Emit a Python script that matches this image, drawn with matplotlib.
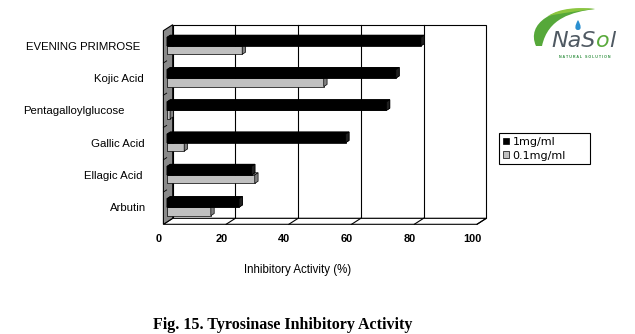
import matplotlib
matplotlib.use("Agg")
import matplotlib.pyplot as plt
from matplotlib.patches import Polygon, PathPatch, Patch
from matplotlib.path import Path
from matplotlib.transforms import IdentityTransform, blended_transform_factory

# ---------------- data ----------------
categories = ["EVENING PRIMROSE", "Kojic Acid", "Pentagalloylglucose",
              "Gallic Acid", "Ellagic Acid", "Arbutin"]
series_names = ["1mg/ml", "0.1mg/ml"]
values_1mg = [81, 73, 70, 57, 27, 23]
values_01mg = [24, 50, 1, 5.5, 28, 14]
xticks = [0, 20, 40, 60, 80, 100]
xlabel = "Inhibitory Activity (%)"
caption = "Fig. 15. Tyrosinase Inhibitory Activity"

# ---------------- layout ----------------
W, H = 635, 334
plt.rcParams['font.family'] = ['Liberation Sans', 'DejaVu Sans']
fig = plt.figure(figsize=(W / 100, H / 100), dpi=100)
fig.patch.set_facecolor('white')

# axes = front plane of the 3-D box
ax = fig.add_axes([163.4 / W, (H - 224.3) / H, 313.6 / W, 193.6 / H])
ax.set_xlim(0, 100)
ax.set_ylim(0, len(categories))
ax.axis('off')

DX = 9.3 / 3.136   # depth offset in value units
DY = 6.0 / 32.27   # depth offset in category units
XMAX = xticks[-1]
NC = len(categories)


def pt(v, y, d):
    return (v + d * DX, y + d * DY)


LW = 0.8
# back wall
ax.add_patch(Polygon([pt(0, 0, 1), pt(XMAX, 0, 1), pt(XMAX, NC, 1), pt(0, NC, 1)],
                     closed=True, facecolor='white', edgecolor='black', lw=LW,
                     clip_on=False, zorder=1))
for v in xticks[1:-1]:
    ax.plot(*zip(pt(v, 0, 1), pt(v, NC, 1)), color='black', lw=LW,
            clip_on=False, zorder=1.5)
# floor
ax.add_patch(Polygon([pt(0, 0, 0), pt(XMAX, 0, 0), pt(XMAX, 0, 1), pt(0, 0, 1)],
                     closed=True, facecolor='white', edgecolor='black', lw=LW,
                     clip_on=False, zorder=2))
for v in xticks[1:]:
    ax.plot(*zip(pt(v, 0, 0), pt(v, 0, 1)), color='black', lw=LW,
            clip_on=False, zorder=2.5)
# side wall
ax.add_patch(Polygon([pt(0, 0, 0), pt(0, 0, 1), pt(0, NC, 1), pt(0, NC, 0)],
                     closed=True, facecolor='#8a8a8a', edgecolor='black', lw=LW,
                     clip_on=False, zorder=3))
for k in range(1, NC):
    ax.plot(*zip(pt(0, k, 0), pt(0, k, 0.35)), color='black', lw=0.6,
            clip_on=False, zorder=3.5)

# bars
d0, d1 = 0.38, 0.74
h = 8.5 / 32.27
shift = 0.04
ypos = [NC - 1 - i + 0.5 for i in range(NC)]


def bar3d(v, yb, face, side, top, edge, z, solid=False):
    yt = yb + h
    if solid:
        ax.add_patch(Polygon([pt(0, yb, d0), pt(v, yb, d0), pt(v, yb, d1),
                              pt(v, yt, d1), pt(0, yt, d1), pt(0, yt, d0)],
                             closed=True, facecolor=face, edgecolor=edge, lw=0.5,
                             clip_on=False, zorder=z - 0.2))
    ax.barh(yb + d0 * DY + h / 2, v, height=h, left=d0 * DX, color=face,
            edgecolor=edge, lw=0.5, clip_on=False, zorder=z)
    ax.add_patch(Polygon([pt(0, yt, d0), pt(v, yt, d0), pt(v, yt, d1), pt(0, yt, d1)],
                         closed=True, facecolor=top, edgecolor=edge, lw=0.5,
                         clip_on=False, zorder=z - 0.1))
    ax.add_patch(Polygon([pt(v, yb, d0), pt(v, yt, d0), pt(v, yt, d1), pt(v, yb, d1)],
                         closed=True, facecolor=side, edgecolor='black', lw=0.5,
                         clip_on=False, zorder=z + 0.1))


for i in range(NC):
    yc = ypos[i] - shift
    bar3d(values_01mg[i], yc - h, '#c0c0c0', '#808080', '#a0a0a0', 'black', 5)
    bar3d(values_1mg[i], yc, 'black', '#202020', 'black', 'black', 6, solid=True)

# x tick labels
for v in xticks:
    ax.text(v - 1.43, -0.465, str(v), ha='center', va='center', fontsize=7.9,
            fontweight='bold', clip_on=False)

# category labels (right edges in figure pixels)
label_right_px = [140, 144, 125, 145, 142.7, 146]
tr = blended_transform_factory(fig.transFigure, ax.transData)
for i, c in enumerate(categories):
    fig.text(label_right_px[i] / W, ypos[i], c, transform=tr, ha='right',
             va='center', fontsize=8.2)

fig.text(298 / W, 1 - 270 / H, xlabel, ha='center', va='center', fontsize=8.3)
fig.text(282.5 / W, 1 - 325 / H, caption, ha='center', va='center',
         fontsize=11.5, fontweight='bold', family=['Liberation Serif', 'DejaVu Serif'])

# legend
handles = [Patch(facecolor='black', edgecolor='black', lw=0.5),
           Patch(facecolor='#c0c0c0', edgecolor='black', lw=0.5)]
leg = fig.legend(handles, series_names, loc='upper left',
                 bbox_to_anchor=(499.3 / W, (H - 170.7) / H, 90.7 / W, 37.4 / H),
                 mode='expand', fancybox=False, edgecolor='black', framealpha=1,
                 borderpad=0.3, handlelength=0.55, handleheight=0.5,
                 handletextpad=0.35, labelspacing=0.35,
                 prop={'family': 'DejaVu Sans', 'size': 8},
                 borderaxespad=0)
leg.get_frame().set_linewidth(0.8)

# logo (decoration, drawn in pixel coordinates)
def P(x, y):
    return (x, H - y)

leaf = Path([P(536, 46), P(526, 24), P(552, 5), P(595, 9),
             P(572, 12), P(548, 18), P(542, 46), P(536, 46)],
            [Path.MOVETO, Path.CURVE4, Path.CURVE4, Path.CURVE4,
             Path.CURVE4, Path.CURVE4, Path.CURVE4, Path.CLOSEPOLY])
fig.add_artist(PathPatch(leaf, facecolor='#56a83a', edgecolor='none',
                         transform=IdentityTransform()))
leaf_hi = Path([P(548, 16), P(560, 8), P(578, 7), P(595, 9),
                P(578, 11), P(562, 13), P(548, 16), P(548, 16)],
               [Path.MOVETO, Path.CURVE4, Path.CURVE4, Path.CURVE4,
                Path.CURVE4, Path.CURVE4, Path.CURVE4, Path.CLOSEPOLY])
fig.add_artist(PathPatch(leaf_hi, facecolor='#8cc63f', edgecolor='none',
                         transform=IdentityTransform()))
drop = Path([P(578, 20), P(581, 25), P(582, 30), P(578, 30),
             P(574, 30), P(575, 25), P(578, 20), P(578, 20)],
            [Path.MOVETO, Path.CURVE4, Path.CURVE4, Path.CURVE4,
             Path.CURVE4, Path.CURVE4, Path.CURVE4, Path.CLOSEPOLY])
fig.add_artist(PathPatch(drop, facecolor='#2a8fd0', edgecolor='none',
                         transform=IdentityTransform()))

renderer = fig.canvas.get_renderer()
x_cur = 551
for part, col in [("NaS", '#4f5962'), ("o", '#5aaa3c'), ("l", '#4f5962')]:
    t = fig.text(x_cur / W, 1 - 41 / H, part, ha='left', va='center', fontsize=16,
                 style='italic', color=col, family=['DejaVu Sans'])
    x_cur += t.get_window_extent(renderer).width + 0.2
fig.text(585 / W, 1 - 57 / H, "N A T U R A L   S O L U T I O N", ha='center',
         va='center', fontsize=2.6, color='#2f8f3f', fontweight='bold')

fig.savefig("out.png", dpi=100)
